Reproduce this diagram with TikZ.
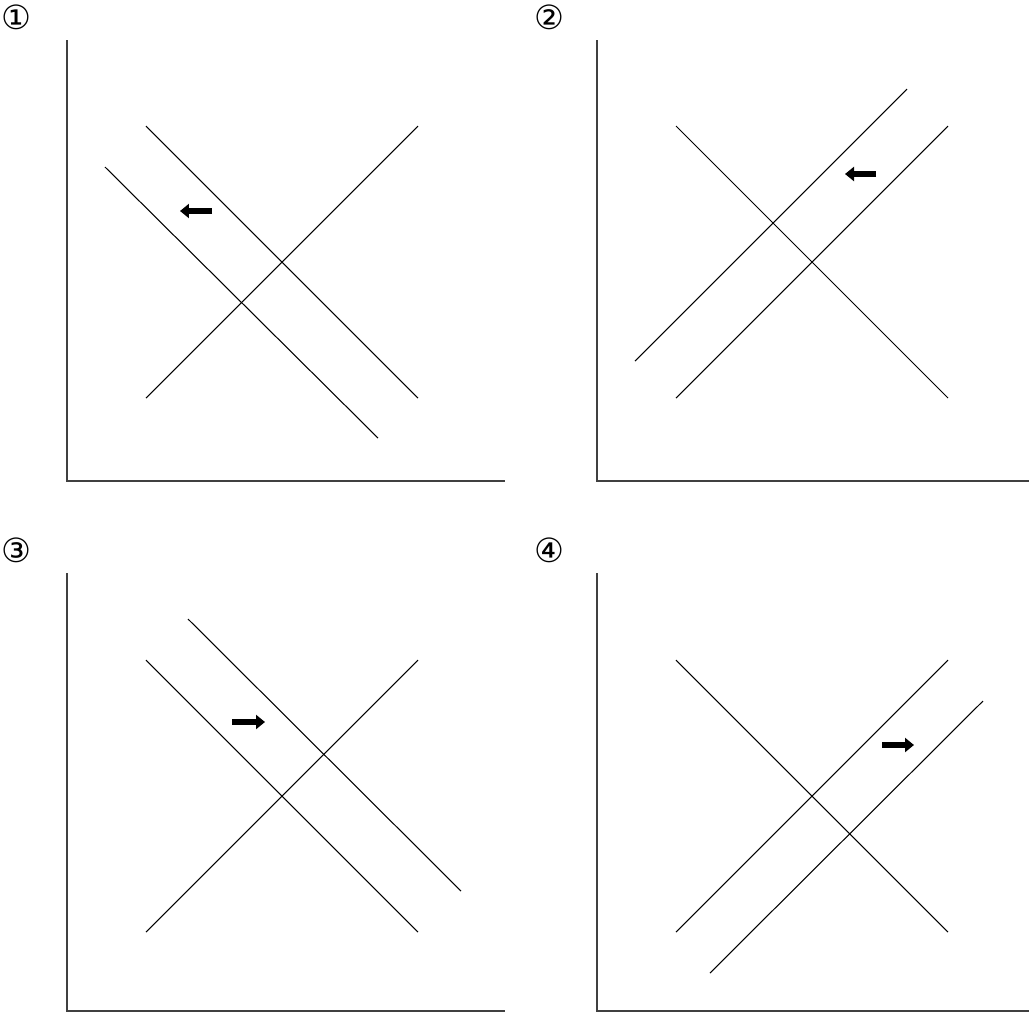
\documentclass[tikz,border=0pt]{standalone}
\usepackage{fontspec}
\newfontfamily\circfont{DejaVu Sans}
\usetikzlibrary{arrows.meta}

\begin{document}
\begin{tikzpicture}[x=0.02cm,y=-0.02cm,
  axis/.style={line width=0.9pt,black!75},
  curve/.style={line width=0.6pt},
  shift arr/.style={-{Triangle[length=0.18cm,width=0.28cm]},line width=0.12cm},
  num/.style={font=\circfont\fontsize{19}{19}\selectfont,inner sep=0pt}]
\useasboundingbox (0,0) rectangle (1029,1012);
% panel 1: demand shifts left
\node[num] (n1) at (16,17) {①};
\draw[axis] (67,40) |- (505,481);
\draw[curve] (146,398) -- (418,126);
\draw[curve] (146,126) -- (418,398);
\draw[curve] (105,167) -- (378,438);
\draw[shift arr] (212,211) -- (180,211);
% panel 2: supply shifts left
\node[num] (n2) at (549,17) {②};
\draw[axis] (597,40) |- (1029,481);
\draw[curve] (676,126) -- (948,398);
\draw[curve] (676,398) -- (948,126);
\draw[curve] (635,361) -- (907,89);
\draw[shift arr] (876,174) -- (845,174);
% panel 3: demand shifts right
\node[num] (n3) at (16,550) {③};
\draw[axis] (67,573) |- (505,1011);
\draw[curve] (146,660) -- (418,932);
\draw[curve] (146,932) -- (418,660);
\draw[curve] (188,619) -- (461,891);
\draw[shift arr] (232,722) -- (265,722);
% panel 4: supply shifts right
\node[num] (n4) at (549,550) {④};
\draw[axis] (597,573) |- (1029,1011);
\draw[curve] (676,660) -- (948,932);
\draw[curve] (676,932) -- (948,660);
\draw[curve] (710,973) -- (983,701);
\draw[shift arr] (882,745) -- (914,745);
\end{tikzpicture}
\end{document}
